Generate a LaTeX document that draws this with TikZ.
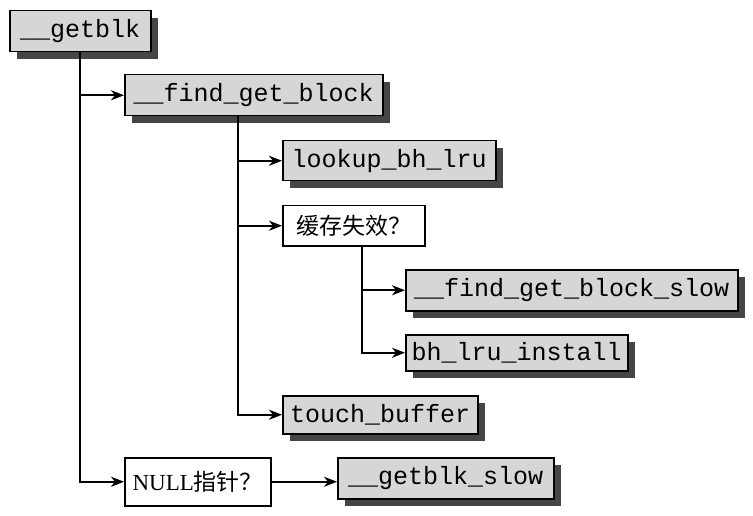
\documentclass[tikz,border=0pt]{standalone}
\usepackage{fontspec}
\setmainfont{Liberation Serif}
\setmonofont{Liberation Mono}
\newfontfamily\cjk{Noto Sans CJK SC}
\usetikzlibrary{shadows,arrows.meta}
\definecolor{boxgray}{HTML}{D6D6D6}
\definecolor{shadegray}{HTML}{454545}
\tikzset{
  fn/.style={draw=black, line width=1.5pt, fill=boxgray, anchor=north west,
    font=\ttfamily\fontsize{25}{25}\selectfont, inner sep=0pt,
    general shadow={fill=shadegray, shadow xshift=7pt, shadow yshift=-7pt}},
  cond/.style={draw=black, line width=1.5pt, fill=white, anchor=north west,
    font=\fontsize{23}{23}\selectfont, inner sep=0pt},
  conn/.style={line width=2pt, -{Stealth[length=13pt,width=10pt,inset=4pt]}}
}
\begin{document}
\begin{tikzpicture}[x=1pt,y=-1pt]
\useasboundingbox (0,0) rectangle (753,516);
\node[fn, minimum width=141pt, minimum height=41pt] (getblk) at (9,10) {\_\_getblk};
\node[fn, minimum width=258pt, minimum height=41pt] (fgb) at (124,74) {\_\_find\_get\_block};
\node[fn, minimum width=213pt, minimum height=40pt] (lookup) at (282,140) {lookup\_bh\_lru};
\node[cond, minimum width=142pt, minimum height=40pt] (miss) at (282,205) {\cjk 缓存失效？};
\node[fn, minimum width=332pt, minimum height=41pt] (slow) at (405,269) {\_\_find\_get\_block\_slow};
\node[fn, minimum width=222pt, minimum height=36pt] (install) at (405,334) {bh\_lru\_install};
\node[fn, minimum width=195pt, minimum height=38pt] (touch) at (282,395) {touch\_buffer};
\node[cond, minimum width=146pt, minimum height=48pt] (null) at (124,457) {NULL{\cjk 指针？}};
\node[fn, minimum width=216pt, minimum height=41pt] (gslow) at (337,457) {\_\_getblk\_slow};

\draw[conn] (getblk.south) |- (fgb.west);
\draw[conn] (getblk.south) |- (null.west);
\draw[conn] ([xshift=-16pt]fgb.south) |- (lookup.west);
\draw[conn] ([xshift=-16pt]fgb.south) |- (miss.west);
\draw[conn] ([xshift=-16pt]fgb.south) |- (touch.west);
\draw[conn] ([xshift=8pt]miss.south) |- (slow.west);
\draw[conn] ([xshift=8pt]miss.south) |- (install.west);
\draw[conn] (null.east) -- (null.east -| gslow.west);
\end{tikzpicture}
\end{document}
